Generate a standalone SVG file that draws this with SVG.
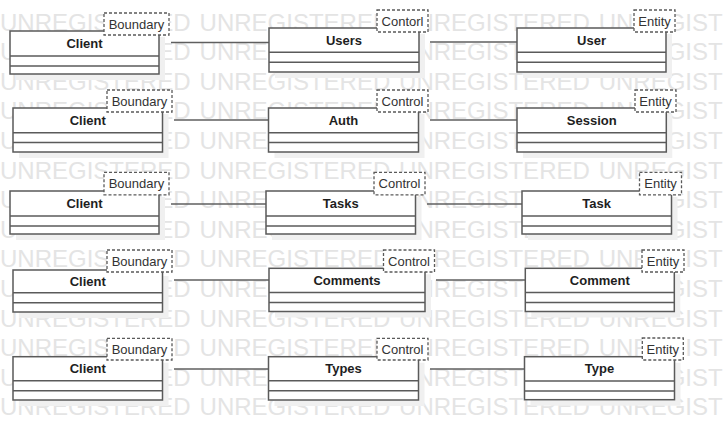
<svg xmlns="http://www.w3.org/2000/svg" width="724" height="440" viewBox="0 0 724 440">
<style>
.wm{font-family:"Liberation Sans",Arial,sans-serif;font-size:24px;fill:#e4e4e4;word-spacing:2.2px}
.shadow{fill:#f0f0f0;stroke:none}
.box{fill:#ffffff;stroke:#5a5a5a;stroke-width:1.5}
.div{stroke:#5a5a5a;stroke-width:1.5;fill:none}
.lbl{fill:#ffffff;stroke:#5a5a5a;stroke-width:1.3;stroke-dasharray:3,2}
.name{font-family:"Liberation Sans",Arial,sans-serif;font-size:13px;font-weight:bold;fill:#1e1e1e;text-anchor:middle}
.st{font-family:"Liberation Sans",Arial,sans-serif;font-size:13px;fill:#333333;text-anchor:middle}
.conn{stroke:#5f5f5f;stroke-width:1.5;fill:none}
</style>
<rect width="724" height="440" fill="#ffffff"/>
<g id="watermark">
<text class="wm" x="0" y="30.5">UNREGISTERED UNREGISTERED UNREGISTERED UNREGIST</text>
<text class="wm" x="0" y="60.1">UNREGISTERED UNREGISTERED UNREGISTERED UNREGIST</text>
<text class="wm" x="0" y="89.7">UNREGISTERED UNREGISTERED UNREGISTERED UNREGIST</text>
<text class="wm" x="0" y="119.3">UNREGISTERED UNREGISTERED UNREGISTERED UNREGIST</text>
<text class="wm" x="0" y="148.9">UNREGISTERED UNREGISTERED UNREGISTERED UNREGIST</text>
<text class="wm" x="0" y="178.5">UNREGISTERED UNREGISTERED UNREGISTERED UNREGIST</text>
<text class="wm" x="0" y="208.1">UNREGISTERED UNREGISTERED UNREGISTERED UNREGIST</text>
<text class="wm" x="0" y="237.7">UNREGISTERED UNREGISTERED UNREGISTERED UNREGIST</text>
<text class="wm" x="0" y="267.3">UNREGISTERED UNREGISTERED UNREGISTERED UNREGIST</text>
<text class="wm" x="0" y="296.9">UNREGISTERED UNREGISTERED UNREGISTERED UNREGIST</text>
<text class="wm" x="0" y="326.5">UNREGISTERED UNREGISTERED UNREGISTERED UNREGIST</text>
<text class="wm" x="0" y="356.1">UNREGISTERED UNREGISTERED UNREGISTERED UNREGIST</text>
<text class="wm" x="0" y="385.7">UNREGISTERED UNREGISTERED UNREGISTERED UNREGIST</text>
<text class="wm" x="0" y="415.3">UNREGISTERED UNREGISTERED UNREGISTERED UNREGIST</text>
</g>
<g id="connectors">
<line class="conn" x1="171" y1="42.5" x2="269" y2="42.5"/>
<line class="conn" x1="430" y1="42" x2="517" y2="42"/>
<line class="conn" x1="174" y1="120" x2="269" y2="120"/>
<line class="conn" x1="430" y1="120" x2="517" y2="120"/>
<line class="conn" x1="171" y1="204" x2="266" y2="204"/>
<line class="conn" x1="427" y1="204" x2="522" y2="204"/>
<line class="conn" x1="174" y1="280" x2="269" y2="280"/>
<line class="conn" x1="436" y1="280" x2="525" y2="280"/>
<line class="conn" x1="174" y1="369" x2="269" y2="369"/>
<line class="conn" x1="430" y1="369" x2="524.5" y2="369"/>
</g>
<!-- Row 1 -->
<g id="client1">
<rect class="shadow" x="16" y="37" width="149" height="43"/>
<rect class="box" x="10" y="31" width="149" height="43"/>
<line class="div" x1="10" y1="56" x2="159" y2="56"/>
<line class="div" x1="10" y1="66" x2="159" y2="66"/>
<text class="name" x="84.5" y="48">Client</text>
<rect class="lbl" x="104" y="13" width="65" height="22"/>
<text class="st" x="136.5" y="28.5">Boundary</text>
</g>
<g id="users">
<rect class="shadow" x="275" y="34" width="150" height="44"/>
<rect class="box" x="269" y="28" width="150" height="44"/>
<line class="div" x1="269" y1="52.3" x2="419" y2="52.3"/>
<line class="div" x1="269" y1="62.3" x2="419" y2="62.3"/>
<text class="name" x="344" y="45">Users</text>
<rect class="lbl" x="377" y="10" width="51" height="22"/>
<text class="st" x="402.5" y="25.5">Contorl</text>
</g>
<g id="user">
<rect class="shadow" x="523" y="34" width="149" height="44"/>
<rect class="box" x="517" y="28" width="149" height="44"/>
<line class="div" x1="517" y1="52.3" x2="666" y2="52.3"/>
<line class="div" x1="517" y1="62.3" x2="666" y2="62.3"/>
<text class="name" x="591.5" y="45">User</text>
<rect class="lbl" x="634" y="10" width="41" height="22"/>
<text class="st" x="654.5" y="25.5">Entity</text>
</g>
<!-- Row 2 -->
<g id="client2">
<rect class="shadow" x="19" y="114" width="149.5" height="44"/>
<rect class="box" x="13" y="108" width="149.5" height="44"/>
<line class="div" x1="13" y1="132.7" x2="162.5" y2="132.7"/>
<line class="div" x1="13" y1="142.5" x2="162.5" y2="142.5"/>
<text class="name" x="87.7" y="125">Client</text>
<rect class="lbl" x="107" y="90" width="65" height="22"/>
<text class="st" x="139.5" y="105.5">Boundary</text>
</g>
<g id="auth">
<rect class="shadow" x="274.5" y="114" width="150" height="44"/>
<rect class="box" x="268.5" y="108" width="150" height="44"/>
<line class="div" x1="268.5" y1="132.7" x2="418.5" y2="132.7"/>
<line class="div" x1="268.5" y1="142.5" x2="418.5" y2="142.5"/>
<text class="name" x="343.5" y="125">Auth</text>
<rect class="lbl" x="377" y="90" width="51" height="22"/>
<text class="st" x="402.5" y="105.5">Control</text>
</g>
<g id="session">
<rect class="shadow" x="523" y="114" width="149.3" height="44"/>
<rect class="box" x="517" y="108" width="149.3" height="44"/>
<line class="div" x1="517" y1="132.7" x2="666.3" y2="132.7"/>
<line class="div" x1="517" y1="142.5" x2="666.3" y2="142.5"/>
<text class="name" x="591.7" y="125">Session</text>
<rect class="lbl" x="635" y="90" width="41" height="22"/>
<text class="st" x="655.5" y="105.5">Entity</text>
</g>
<!-- Row 3 -->
<g id="client3">
<rect class="shadow" x="16" y="197" width="149" height="43"/>
<rect class="box" x="10" y="191" width="149" height="43"/>
<line class="div" x1="10" y1="216" x2="159" y2="216"/>
<line class="div" x1="10" y1="226" x2="159" y2="226"/>
<text class="name" x="84.5" y="208">Client</text>
<rect class="lbl" x="104" y="172.3" width="65" height="22.5"/>
<text class="st" x="136.5" y="188">Boundary</text>
</g>
<g id="tasks">
<rect class="shadow" x="272" y="197" width="149.5" height="43"/>
<rect class="box" x="266" y="191" width="149.5" height="43"/>
<line class="div" x1="266" y1="216" x2="415.5" y2="216"/>
<line class="div" x1="266" y1="226" x2="415.5" y2="226"/>
<text class="name" x="340.7" y="208">Tasks</text>
<rect class="lbl" x="374" y="172.3" width="51" height="22.5"/>
<text class="st" x="399.5" y="188">Control</text>
</g>
<g id="task">
<rect class="shadow" x="528" y="197" width="149.5" height="43"/>
<rect class="box" x="522" y="191" width="149.5" height="43"/>
<line class="div" x1="522" y1="216" x2="671.5" y2="216"/>
<line class="div" x1="522" y1="226" x2="671.5" y2="226"/>
<text class="name" x="596.7" y="208">Task</text>
<rect class="lbl" x="639.5" y="172.3" width="42" height="22.5"/>
<text class="st" x="660.5" y="188">Entity</text>
</g>
<!-- Row 4 -->
<g id="client4">
<rect class="shadow" x="19" y="276" width="149.5" height="42"/>
<rect class="box" x="13" y="270" width="149.5" height="42"/>
<line class="div" x1="13" y1="292.7" x2="162.5" y2="292.7"/>
<line class="div" x1="13" y1="302.7" x2="162.5" y2="302.7"/>
<text class="name" x="87.7" y="285.5">Client</text>
<rect class="lbl" x="107" y="250" width="65" height="22"/>
<text class="st" x="139.5" y="265.5">Boundary</text>
</g>
<g id="comments">
<rect class="shadow" x="275" y="274.3" width="156" height="43.2"/>
<rect class="box" x="269" y="268.3" width="156" height="43.2"/>
<line class="div" x1="269" y1="292.5" x2="425" y2="292.5"/>
<line class="div" x1="269" y1="302.5" x2="425" y2="302.5"/>
<text class="name" x="347" y="285.3">Comments</text>
<rect class="lbl" x="383.5" y="250" width="51" height="22"/>
<text class="st" x="409" y="265.5">Control</text>
</g>
<g id="comment">
<rect class="shadow" x="531.3" y="274.3" width="149" height="43.2"/>
<rect class="box" x="525.3" y="268.3" width="149" height="43.2"/>
<line class="div" x1="525.3" y1="292.5" x2="674.3" y2="292.5"/>
<line class="div" x1="525.3" y1="302.5" x2="674.3" y2="302.5"/>
<text class="name" x="599.8" y="285.3">Comment</text>
<rect class="lbl" x="642" y="250" width="42" height="22"/>
<text class="st" x="663" y="265.5">Entity</text>
</g>
<!-- Row 5 -->
<g id="client5">
<rect class="shadow" x="19" y="362.7" width="149.5" height="43.3"/>
<rect class="box" x="13" y="356.7" width="149.5" height="43.3"/>
<line class="div" x1="13" y1="380.7" x2="162.5" y2="380.7"/>
<line class="div" x1="13" y1="390.7" x2="162.5" y2="390.7"/>
<text class="name" x="87.7" y="373.3">Client</text>
<rect class="lbl" x="107" y="338.3" width="65" height="21.7"/>
<text class="st" x="139.5" y="353.7">Boundary</text>
</g>
<g id="types">
<rect class="shadow" x="274.5" y="362.7" width="150" height="43.3"/>
<rect class="box" x="268.5" y="356.7" width="150" height="43.3"/>
<line class="div" x1="268.5" y1="380.7" x2="418.5" y2="380.7"/>
<line class="div" x1="268.5" y1="390.7" x2="418.5" y2="390.7"/>
<text class="name" x="343.5" y="373.3">Types</text>
<rect class="lbl" x="377" y="338.3" width="51" height="21.7"/>
<text class="st" x="402.5" y="353.7">Control</text>
</g>
<g id="type">
<rect class="shadow" x="530.5" y="362.7" width="150" height="43"/>
<rect class="box" x="524.5" y="356.7" width="150" height="43"/>
<line class="div" x1="524.5" y1="381" x2="674.5" y2="381"/>
<line class="div" x1="524.5" y1="391" x2="674.5" y2="391"/>
<text class="name" x="599.5" y="373.3">Type</text>
<rect class="lbl" x="642.3" y="338" width="41" height="22"/>
<text class="st" x="662.8" y="353.7">Entity</text>
</g>
</svg>
